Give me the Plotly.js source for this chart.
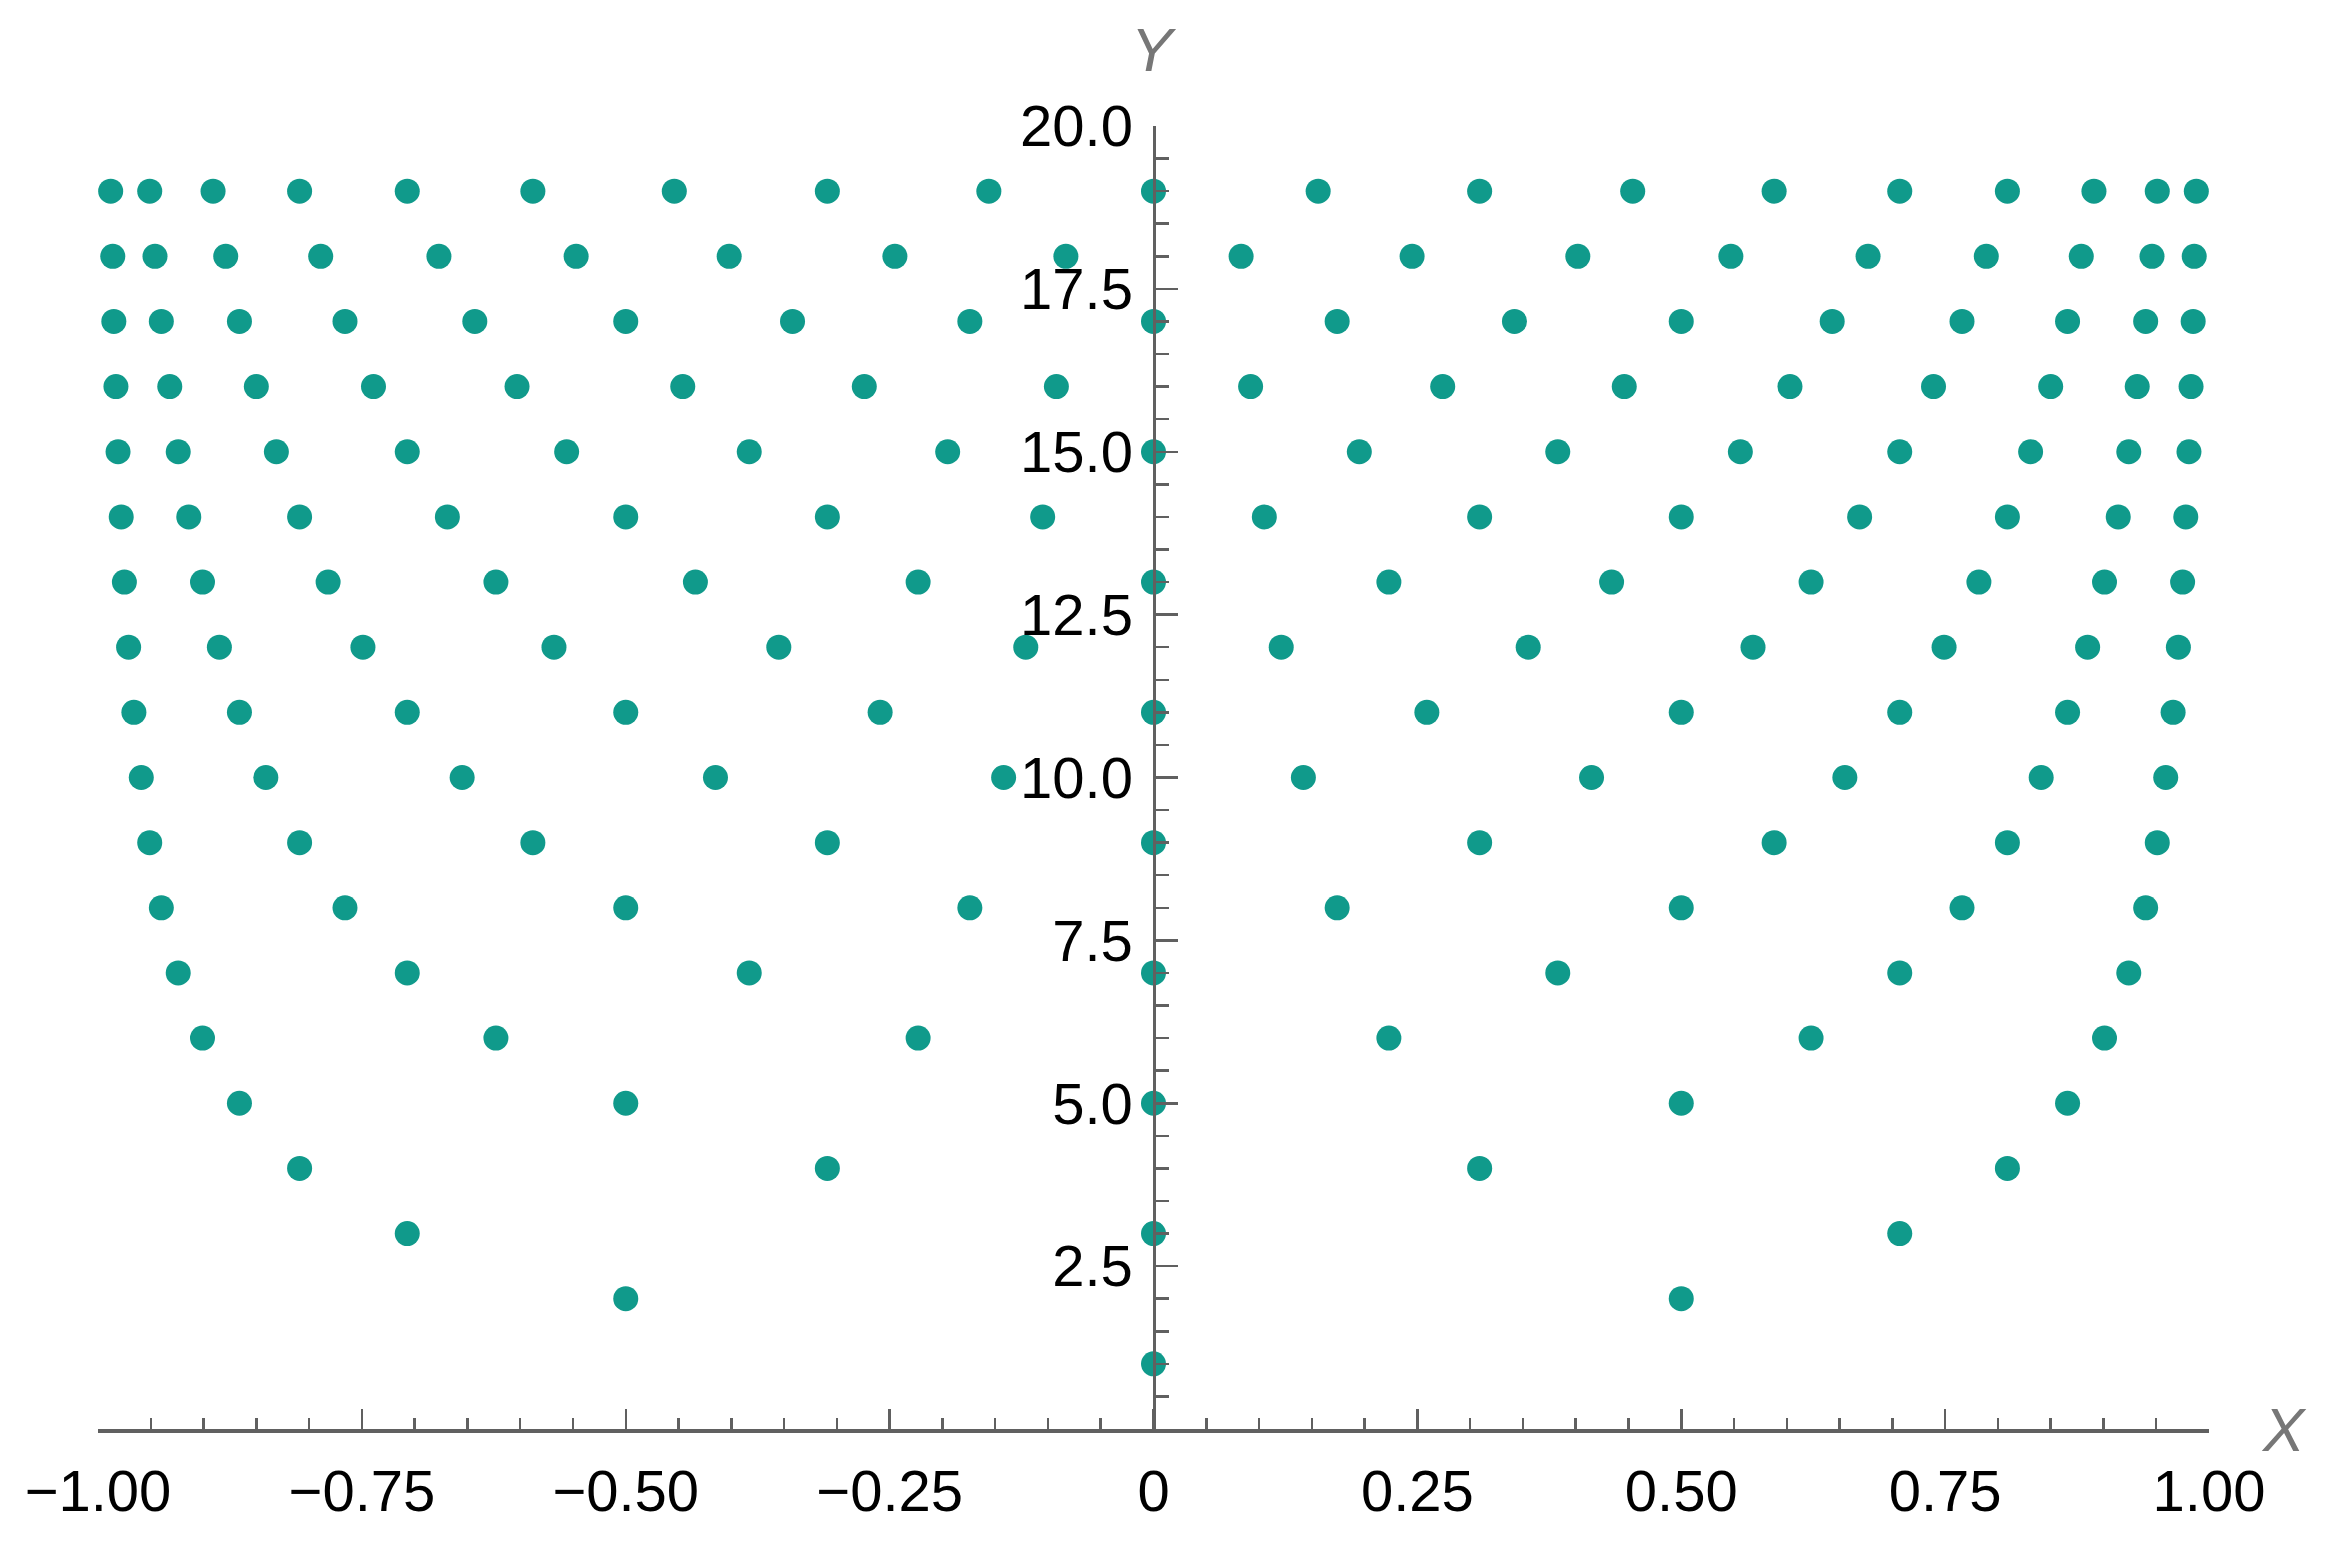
<!DOCTYPE html>
<html>
<head>
<meta charset="utf-8">
<script src="https://cdn.plot.ly/plotly-3.0.1.min.js"></script>
<style>
  html, body { margin: 0; padding: 0; background: #ffffff; }
  #chart { width: 2340px; height: 1546px; }
</style>
</head>
<body>
<div id="chart"></div>
<script>
// Y level of each row of points
const levels = [1, 2, 3, 4, 5, 6, 7, 8, 9, 10, 11, 12, 13, 14, 15, 16, 17, 18, 19];

// X positions of the points in each row
const xByLevel = [
  [0],
  [0.5, -0.5],
  [0.707, 0, -0.707],
  [0.809, 0.309, -0.309, -0.809],
  [0.866, 0.5, 0, -0.5, -0.866],
  [0.901, 0.623, 0.223, -0.223, -0.623, -0.901],
  [0.924, 0.707, 0.383, 0, -0.383, -0.707, -0.924],
  [0.940, 0.766, 0.5, 0.174, -0.174, -0.5, -0.766, -0.940],
  [0.951, 0.809, 0.588, 0.309, 0, -0.309, -0.588, -0.809, -0.951],
  [0.959, 0.841, 0.655, 0.415, 0.142, -0.142, -0.415, -0.655, -0.841, -0.959],
  [0.966, 0.866, 0.707, 0.5, 0.259, 0, -0.259, -0.5, -0.707, -0.866, -0.966],
  [0.971, 0.885, 0.749, 0.568, 0.355, 0.121, -0.121, -0.355, -0.568, -0.749, -0.885, -0.971],
  [0.975, 0.901, 0.782, 0.623, 0.434, 0.223, 0, -0.223, -0.434, -0.623, -0.782, -0.901, -0.975],
  [0.978, 0.914, 0.809, 0.669, 0.5, 0.309, 0.105, -0.105, -0.309, -0.5, -0.669, -0.809, -0.914, -0.978],
  [0.981, 0.924, 0.831, 0.707, 0.556, 0.383, 0.195, 0, -0.195, -0.383, -0.556, -0.707, -0.831, -0.924, -0.981],
  [0.983, 0.932, 0.850, 0.739, 0.603, 0.446, 0.274, 0.092, -0.092, -0.274, -0.446, -0.603, -0.739, -0.850, -0.932, -0.983],
  [0.985, 0.940, 0.866, 0.766, 0.643, 0.5, 0.342, 0.174, 0, -0.174, -0.342, -0.5, -0.643, -0.766, -0.866, -0.940, -0.985],
  [0.986, 0.946, 0.879, 0.789, 0.677, 0.547, 0.402, 0.245, 0.083, -0.083, -0.245, -0.402, -0.547, -0.677, -0.789, -0.879, -0.946, -0.986],
  [0.988, 0.951, 0.891, 0.809, 0.707, 0.588, 0.454, 0.309, 0.156, 0, -0.156, -0.309, -0.454, -0.588, -0.707, -0.809, -0.891, -0.951, -0.988]
];

// Tick labels
const xTickVals = [-1, -0.75, -0.5, -0.25, 0, 0.25, 0.5, 0.75, 1];
const xTickText = ['\u22121.00', '\u22120.75', '\u22120.50', '\u22120.25', '0', '0.25', '0.50', '0.75', '1.00'];
const yTickVals = [2.5, 5, 7.5, 10, 12.5, 15, 17.5, 20];
const yTickText = ['2.5', '5.0', '7.5', '10.0', '12.5', '15.0', '17.5', '20.0'];

// Flatten rows for the scatter trace
const xs = [];
const ys = [];
levels.forEach((lv, i) => {
  xByLevel[i].forEach(x => { xs.push(x); ys.push(lv); });
});

const axisColor = '#606060';
const tickFont = { family: 'Liberation Sans, Arial, sans-serif', size: 58, color: '#000000' };

const trace = {
  type: 'scatter',
  mode: 'markers',
  x: xs,
  y: ys,
  cliponaxis: false,
  marker: { size: 25, color: '#109A8B', line: { width: 0 } },
  hoverinfo: 'x+y'
};

const layout = {
  width: 2340,
  height: 1546,
  paper_bgcolor: '#ffffff',
  plot_bgcolor: '#ffffff',
  showlegend: false,
  margin: { l: 98, r: 131, t: 126, b: 117, pad: 0 },
  xaxis: {
    range: [-1, 1],
    anchor: 'y',
    showgrid: false,
    zeroline: false,
    showline: true,
    linecolor: axisColor,
    linewidth: 3.5,
    ticks: 'inside',
    ticklen: 20,
    tickwidth: 2.5,
    tickcolor: axisColor,
    tickmode: 'array',
    tickvals: xTickVals,
    ticktext: xTickText,
    tickfont: tickFont,
    ticklabelstandoff: 9,
    minor: { tickmode: 'linear', tick0: 0, dtick: 0.05, ticks: 'inside', ticklen: 11, tickwidth: 2.5, tickcolor: axisColor, showgrid: false }
  },
  yaxis: {
    range: [0, 20],
    anchor: 'free',
    position: 0.5,
    side: 'left',
    showgrid: false,
    zeroline: false,
    showline: true,
    linecolor: axisColor,
    linewidth: 3.5,
    ticks: 'inside',
    ticklen: 22,
    tickwidth: 2.5,
    tickcolor: axisColor,
    tickmode: 'array',
    tickvals: yTickVals,
    ticktext: yTickText,
    tickfont: tickFont,
    ticklabelstandoff: 8,
    minor: { tickmode: 'linear', tick0: 0, dtick: 0.5, ticks: 'inside', ticklen: 13, tickwidth: 2.5, tickcolor: axisColor, showgrid: false }
  },
  annotations: [
    {
      text: '<i>X</i>', xref: 'paper', yref: 'y', x: 1, y: 0,
      xanchor: 'left', yanchor: 'middle', xshift: 50, showarrow: false,
      font: { family: 'Liberation Sans, Arial, sans-serif', size: 62, color: '#777777' }
    },
    {
      text: '<i>Y</i>', xref: 'x', yref: 'paper', x: 0, y: 1,
      xanchor: 'center', yanchor: 'bottom', yshift: 40, showarrow: false,
      font: { family: 'Liberation Sans, Arial, sans-serif', size: 62, color: '#777777' }
    }
  ]
};

Plotly.newPlot('chart', [trace], layout, { displayModeBar: false, staticPlot: true });
</script>
</body>
</html>
